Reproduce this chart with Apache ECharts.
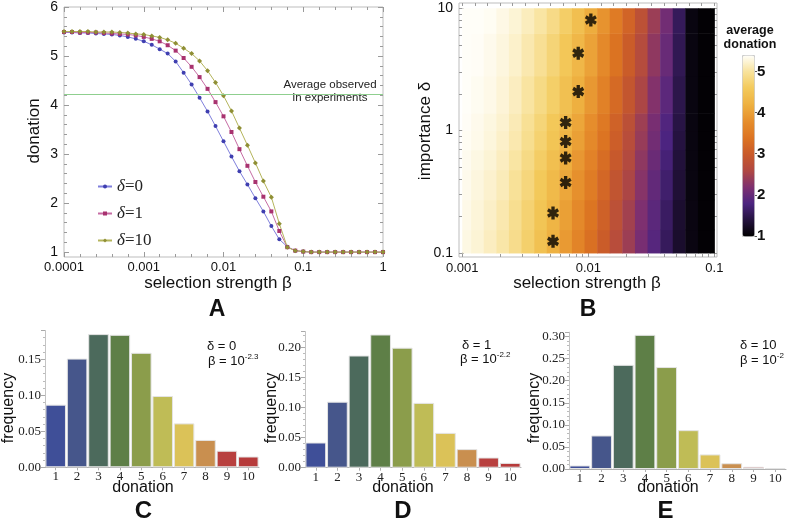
<!DOCTYPE html>
<html><head><meta charset="utf-8">
<script src="https://cdn.jsdelivr.net/npm/echarts@6/dist/echarts.min.js"></script>
<style>html,body{margin:0;padding:0;background:#fff}#c{width:787px;height:519px}</style>
</head><body><div id="c"></div>
<script>
// ---------- Panel A data ----------
const logBeta = [-4.0,-3.9,-3.8,-3.7,-3.6,-3.5,-3.4,-3.3,-3.2,-3.1,-3.0,-2.9,-2.8,-2.7,-2.6,-2.5,-2.4,-2.3,-2.2,-2.1,-2.0,-1.9,-1.8,-1.7,-1.6,-1.5,-1.4,-1.3,-1.2,-1.1,-1.0,-0.9,-0.8,-0.7,-0.6,-0.5,-0.4,-0.3,-0.2,-0.1,0.0];
const donationDelta0  = [5.48,5.48,5.47,5.47,5.46,5.45,5.44,5.42,5.39,5.35,5.30,5.23,5.14,5.05,4.89,4.66,4.42,4.15,3.87,3.57,3.26,2.95,2.65,2.38,2.10,1.83,1.53,1.26,1.11,1.03,1.01,1.00,1.00,1.00,1.00,1.00,1.00,1.00,1.00,1.00,1.00];
const donationDelta1  = [5.49,5.49,5.48,5.48,5.48,5.47,5.46,5.45,5.44,5.42,5.39,5.35,5.30,5.22,5.11,4.96,4.78,4.57,4.33,4.06,3.77,3.45,3.10,2.76,2.43,2.13,1.83,1.43,1.10,1.03,1.01,1.00,1.00,1.00,1.00,1.00,1.00,1.00,1.00,1.00,1.00];
const donationDelta10 = [5.50,5.50,5.50,5.50,5.49,5.49,5.49,5.48,5.47,5.45,5.44,5.41,5.38,5.33,5.26,5.16,5.05,4.90,4.70,4.46,4.19,3.88,3.53,3.18,2.82,2.45,2.12,1.58,1.10,1.03,1.01,1.00,1.00,1.00,1.00,1.00,1.00,1.00,1.00,1.00,1.00];
const seriesNamesA = ['δ=0','δ=1','δ=10'];
const observedAverage = 4.22;
const xTicksA = [-4,-3,-2,-1,0];
const xTickLabelsA = ['0.0001','0.001','0.01','0.1','1'];
const yTicksA = [1,2,3,4,5,6];

// ---------- Panel B data ----------
const heatColEdges = [-3,-2.93,-2.83,-2.73,-2.63,-2.53,-2.43,-2.33,-2.23,-2.13,-2.03,-1.93,-1.83,-1.73,-1.63,-1.53,-1.43,-1.33,-1.23,-1.13,-1.03,-1];
const heatRowEdges = [-1,-0.81,-0.565,-0.32,-0.157,0,0.143,0.447,0.796,1];
const heatValues = [
 [5.31,5.25,5.16,5.06,4.91,4.71,4.47,4.21,3.94,3.64,3.34,3.03,2.72,2.44,2.15,1.88,1.58,1.29,1.11,1.03,1.01],
 [5.33,5.27,5.19,5.09,4.94,4.75,4.53,4.28,4.01,3.72,3.41,3.10,2.79,2.49,2.20,1.92,1.62,1.31,1.11,1.03,1.01],
 [5.35,5.29,5.22,5.13,4.99,4.81,4.60,4.36,4.10,3.82,3.52,3.20,2.88,2.57,2.27,1.98,1.68,1.35,1.10,1.03,1.01],
 [5.36,5.31,5.25,5.16,5.04,4.87,4.67,4.44,4.19,3.91,3.62,3.30,2.97,2.65,2.33,2.04,1.74,1.38,1.10,1.03,1.01],
 [5.38,5.34,5.28,5.20,5.09,4.93,4.74,4.53,4.28,4.01,3.72,3.40,3.06,2.72,2.40,2.10,1.80,1.41,1.10,1.03,1.01],
 [5.39,5.35,5.30,5.23,5.12,4.97,4.79,4.59,4.35,4.08,3.79,3.47,3.12,2.78,2.45,2.15,1.84,1.44,1.10,1.03,1.01],
 [5.41,5.37,5.33,5.26,5.16,5.03,4.87,4.69,4.46,4.20,3.92,3.60,3.25,2.91,2.57,2.24,1.93,1.48,1.10,1.03,1.01],
 [5.42,5.39,5.35,5.29,5.21,5.09,4.96,4.78,4.57,4.32,4.04,3.73,3.38,3.03,2.68,2.34,2.02,1.53,1.10,1.03,1.01],
 [5.44,5.41,5.38,5.32,5.25,5.15,5.04,4.88,4.68,4.44,4.17,3.86,3.51,3.16,2.80,2.43,2.10,1.57,1.10,1.03,1.01]
];
const starLogBeta  = [-1.98,-2.08,-2.08,-2.18,-2.18,-2.18,-2.18,-2.28,-2.28];
const starLogDelta = [0.904,0.633,0.319,0.066,-0.089,-0.224,-0.424,-0.673,-0.905];
const xTicksB = [-3,-2,-1];
const xTickLabelsB = ['0.001','0.01','0.1'];
const yTicksB = [-1,0,1];
const yTickLabelsB = ['0.1','1','10'];
const colorbarTicks = [1,2,3,4,5];
const colorbarMin = 1, colorbarMax = 5.4;

// ---------- Panels C, D, E data ----------
const donationLevels = ['1','2','3','4','5','6','7','8','9','10'];
const freqC = [0.087,0.151,0.185,0.184,0.159,0.099,0.061,0.038,0.023,0.015];
const freqD = [0.042,0.110,0.187,0.222,0.200,0.108,0.058,0.031,0.017,0.008];
const freqE = [0.008,0.076,0.236,0.304,0.231,0.088,0.033,0.013,0.005,0.002];
const freqTicksC = [0,0.05,0.10,0.15];
const freqTicksD = [0,0.05,0.10,0.15,0.20];
const freqTicksE = [0,0.05,0.10,0.15,0.20,0.25,0.30];

// ---------- styles ----------
const SANS = '"Liberation Sans", Arial, Helvetica, sans-serif';
const SERIF = '"Liberation Serif", "Times New Roman", serif';
const FRAME = '#bdbdbd';
const TICK = '#9a9a9a';
const barColors = ['#3f4f98','#46568b','#4c6a5c','#5e7f47','#8b9d4b','#bfbc56','#dbc258','#c98f4f','#b8403f','#b63b3b'];
const sunset = ['#000000','#24123e','#4c2480','#7e3070','#b04842','#c95a2a','#dc7422','#e68e2c','#eeb040','#f3c95a','#f8e29a','#fffef8'];
const starPath = 'path://M36.3 0L64.3 0L64.3 100L36.3 100ZM86.6 12.9L100.6 37.1L14 87.1L0 62.9ZM100.6 62.9L86.6 87.1L0 37.1L14 12.9Z';

// tick helper lists (styling only)
const minorA = []; for (let i = 1; i < 26; i++) { const v = +(1 + 0.2 * i).toFixed(2); if (Math.abs(v - Math.round(v)) > 1e-6) minorA.push(v); }
const logMinorX = []; [-3,-2].forEach(d => { for (let k = 2; k <= 9; k++) logMinorX.push(d + Math.log10(k)); });
const logMinorY = []; [-1,0].forEach(d => { for (let k = 2; k <= 9; k++) logMinorY.push(d + Math.log10(k)); });
const uniformTopB = []; for (let i = 0; i <= 20; i++) uniformTopB.push(+(-3 + 0.1 * i).toFixed(2));

function tickOnly(gridIndex, position, min, max, values, len) {
  return {type:'value', gridIndex, position, min, max, silent:true,
    axisLine:{show:false, onZero:false}, splitLine:{show:false}, axisLabel:{show:false},
    axisTick:{show:true, inside:true, length:len, customValues:values, lineStyle:{color:TICK}}};
}

const chart = echarts.init(document.getElementById('c'), null, {renderer:'canvas'});

const heatData = [];
heatValues.forEach((row, r) => row.forEach((v, k) => {
  heatData.push([heatColEdges[k], heatColEdges[k+1], heatRowEdges[r], heatRowEdges[r+1], v]);
}));
const starData = starLogBeta.map((x, i) => [x, starLogDelta[i]]);

function barYAxis(gridIndex, max, ticks) {
  return {type:'value', gridIndex, min:0, max, interval:0.05,
    axisLine:{show:true, lineStyle:{color:'#c4c4c4'}},
    axisTick:{show:true, length:4, lineStyle:{color:'#aaa'}},
    minorTick:{show:true, splitNumber:5, length:2, lineStyle:{color:'#bbb'}},
    splitLine:{show:false},
    axisLabel:{customValues:ticks, formatter:v => v.toFixed(2), fontFamily:SERIF, fontSize:13, color:'#222', margin:4}};
}
function barXAxis(gridIndex) {
  return {type:'category', gridIndex, data:donationLevels,
    axisLine:{show:true, lineStyle:{color:'#b0b0b0'}},
    axisTick:{show:true, alignWithLabel:true, length:3, lineStyle:{color:'#b0b0b0'}},
    axisLabel:{fontFamily:SERIF, fontSize:13, color:'#222', margin:3}};
}
function barSeries(xi, yi, vals) {
  return {type:'bar', xAxisIndex:xi, yAxisIndex:yi, barCategoryGap:'4%',
    data: vals.map((v, i) => ({value:v, itemStyle:{color:barColors[i], borderColor:'#e4e4e4', borderWidth:1}}))};
}
function txt(x, y, text, size, opts) {
  return Object.assign({type:'text', x, y, silent:true,
    style:{text, fontSize:size, fontFamily:SANS, fill:'#111', align:'center', verticalAlign:'middle'}}, opts || {});
}
function bold(x, y, text, size) {
  return {type:'text', x, y, silent:true, style:{text, fontSize:size, fontWeight:'bold', fontFamily:SANS, fill:'#111', align:'center', verticalAlign:'middle'}};
}
function leftTxt(x, y, text) {
  return {type:'text', x, y, silent:true, style:{text, fontSize:13, fontFamily:SANS, fill:'#111', align:'left', verticalAlign:'middle'}};
}
function supText(x, y, base, sup) {
  return {type:'text', x, y, silent:true, style:{
    text:'{n|' + base + '}{s|' + sup + '}', align:'left', verticalAlign:'middle',
    rich:{n:{fontSize:13, fontFamily:SANS, fill:'#111', lineHeight:16},
          s:{fontSize:8, fontFamily:SANS, fill:'#111', verticalAlign:'top', lineHeight:16}}}};
}

const option = {
  animation:false,
  backgroundColor:'#fff',
  grid:[
    {left:64, top:5, width:319, height:252, show:true, borderColor:FRAME, borderWidth:1, backgroundColor:'transparent'},
    {left:459, top:3, width:258, height:254, show:true, borderColor:FRAME, borderWidth:1, backgroundColor:'transparent'},
    {left:742, top:55, width:12, height:181},
    {left:45, top:330.5, width:214, height:136.8},
    {left:305, top:331.5, width:216, height:136.2},
    {left:569, top:332.2, width:217, height:136.8}
  ],
  legend:{left:92, top:173, orient:'vertical', itemGap:10, itemWidth:14, itemHeight:5,
    data:seriesNamesA,
    formatter:name => '{i|δ}' + name.slice(1),
    textStyle:{fontFamily:SERIF, fontSize:17, color:'#222', rich:{i:{fontFamily:SERIF, fontSize:17, fontStyle:'italic', color:'#222'}}}},
  visualMap:{type:'continuous', min:colorbarMin, max:colorbarMax, seriesIndex:3, dimension:4,
    calculable:false, hoverLink:false, left:742, top:55, itemWidth:12, itemHeight:181, padding:0,
    borderColor:'#cccccc', borderWidth:1, inRange:{color:sunset}},
  xAxis:[
    {type:'value', gridIndex:0, min:-4, max:0, interval:1, position:'bottom',
      axisLine:{show:false, onZero:false}, splitLine:{show:false},
      axisTick:{inside:true, length:5, lineStyle:{color:TICK}},
      minorTick:{show:true, splitNumber:5, length:3, lineStyle:{color:TICK}},
      axisLabel:{formatter:v => xTickLabelsA[xTicksA.indexOf(Math.round(v))] || '', fontFamily:SANS, fontSize:13, color:'#111', margin:4}},
    {type:'value', gridIndex:0, min:-4, max:0, interval:1, position:'top', silent:true,
      axisLine:{show:false, onZero:false}, splitLine:{show:false}, axisLabel:{show:false},
      axisTick:{inside:true, length:5, lineStyle:{color:TICK}},
      minorTick:{show:true, splitNumber:5, length:3, lineStyle:{color:TICK}}},
    {type:'value', gridIndex:1, min:-3.026, max:-0.979, position:'bottom',
      axisLine:{show:false, onZero:false}, splitLine:{show:false},
      axisTick:{inside:true, length:5, customValues:xTicksB, lineStyle:{color:TICK}},
      axisLabel:{customValues:xTicksB, formatter:v => xTickLabelsB[xTicksB.indexOf(Math.round(v))] || '', fontFamily:SANS, fontSize:13, color:'#111', margin:5}},
    tickOnly(1, 'bottom', -3.026, -0.979, logMinorX, 3),
    tickOnly(1, 'top', -3.026, -0.979, uniformTopB, 3),
    {type:'value', gridIndex:2, show:false, min:0, max:1},
    barXAxis(3), barXAxis(4), barXAxis(5)
  ],
  yAxis:[
    {type:'value', gridIndex:0, min:0.9, max:6, position:'left',
      axisLine:{show:false, onZero:false}, splitLine:{show:false},
      axisTick:{inside:true, length:5, customValues:yTicksA, lineStyle:{color:TICK}},
      axisLabel:{customValues:yTicksA, fontFamily:SANS, fontSize:14, color:'#111', margin:6}},
    tickOnly(0, 'left', 0.9, 6, minorA, 3),
    tickOnly(0, 'right', 0.9, 6, yTicksA, 5),
    tickOnly(0, 'right', 0.9, 6, minorA, 3),
    {type:'value', gridIndex:1, min:-1.033, max:1.043, position:'left',
      axisLine:{show:false, onZero:false}, splitLine:{show:false},
      axisTick:{inside:true, length:5, customValues:yTicksB, lineStyle:{color:TICK}},
      axisLabel:{customValues:yTicksB, formatter:v => yTickLabelsB[yTicksB.indexOf(Math.round(v))] || '', fontFamily:SANS, fontSize:14, color:'#111', margin:6}},
    tickOnly(1, 'left', -1.033, 1.043, logMinorY, 3),
    tickOnly(1, 'right', -1.033, 1.043, logMinorY.concat(yTicksB), 3),
    {type:'value', gridIndex:2, min:colorbarMin, max:colorbarMax, position:'right',
      axisLine:{show:false, onZero:false}, splitLine:{show:false},
      axisTick:{show:true, inside:false, length:3, customValues:colorbarTicks, lineStyle:{color:'#555'}},
      axisLabel:{customValues:colorbarTicks, fontFamily:SANS, fontSize:15, fontWeight:'bold', color:'#111', margin:3}},
    barYAxis(3, 0.19, freqTicksC), barYAxis(4, 0.227, freqTicksD), barYAxis(5, 0.31, freqTicksE)
  ],
  series:[
    {type:'line', name:seriesNamesA[0], xAxisIndex:0, yAxisIndex:0, symbol:'circle', symbolSize:4,
      lineStyle:{color:'#7f7fdc', width:1}, itemStyle:{color:'#3f3fb0'},
      data:logBeta.map((x, i) => [x, donationDelta0[i]]),
      markLine:{silent:true, symbol:['none','none'], label:{show:false}, animation:false,
        lineStyle:{color:'#8fcf8f', width:1.2, type:'solid'}, data:[{yAxis:observedAverage}]}},
    {type:'line', name:seriesNamesA[1], xAxisIndex:0, yAxisIndex:0, symbol:'rect', symbolSize:4,
      lineStyle:{color:'#c66ca4', width:1}, itemStyle:{color:'#a8326f'},
      data:logBeta.map((x, i) => [x, donationDelta1[i]])},
    {type:'line', name:seriesNamesA[2], xAxisIndex:0, yAxisIndex:0, symbol:'diamond', symbolSize:5,
      lineStyle:{color:'#b5b55c', width:1}, itemStyle:{color:'#8f8f35'},
      data:logBeta.map((x, i) => [x, donationDelta10[i]])},
    {type:'custom', xAxisIndex:2, yAxisIndex:4, data:heatData, encode:{x:[0,1], y:[2,3]},
      renderItem:function(params, api){
        const a = api.coord([api.value(0), api.value(3)]);
        const b = api.coord([api.value(1), api.value(2)]);
        return {type:'rect', shape:{x:a[0], y:a[1], width:b[0]-a[0]+0.5, height:b[1]-a[1]+0.5},
          style:{fill:api.visual('color')}};
      }},
    {type:'scatter', xAxisIndex:2, yAxisIndex:4, symbol:starPath, symbolSize:[12,13], z:5,
      itemStyle:{color:'#000'}, data:starData},
    barSeries(6, 8, freqC), barSeries(7, 9, freqD), barSeries(8, 10, freqE)
  ],
  graphic:[
    txt(34, 131, 'donation', 17, {rotation:Math.PI/2}),
    txt(218, 283, 'selection strength β', 17),
    bold(217, 310, 'A', 23),
    {type:'text', x:330, y:91.5, silent:true, style:{text:'Average observed\nin experiments', fontSize:11.5, lineHeight:13.5, fontFamily:SANS, fill:'#222', align:'center', verticalAlign:'middle'}},
    txt(425, 131, 'importance δ', 17, {rotation:Math.PI/2}),
    txt(587, 283, 'selection strength β', 17),
    bold(588, 310, 'B', 23),
    {type:'text', x:750, y:37.5, silent:true, style:{text:'average\ndonation', fontSize:12.5, lineHeight:13.6, fontWeight:'bold', fontFamily:SANS, fill:'#111', align:'center', verticalAlign:'middle'}},
    txt(9, 408, 'frequency', 16, {rotation:Math.PI/2}),
    txt(143, 488, 'donation', 16),
    bold(143.5, 511, 'C', 24),
    leftTxt(207, 346, 'δ = 0'),
    supText(208, 361, 'β = 10', '-2.3'),
    txt(272, 408, 'frequency', 16, {rotation:Math.PI/2}),
    txt(403, 488, 'donation', 16),
    bold(403, 511, 'D', 24),
    leftTxt(462, 345, 'δ = 1'),
    supText(460, 359, 'β = 10', '-2.2'),
    txt(535, 408, 'frequency', 16, {rotation:Math.PI/2}),
    txt(668, 488, 'donation', 16),
    bold(665.5, 511, 'E', 24),
    leftTxt(740, 345, 'δ = 10'),
    supText(740, 360, 'β = 10', '-2')
  ]
};
chart.setOption(option);
</script>
</body></html>
